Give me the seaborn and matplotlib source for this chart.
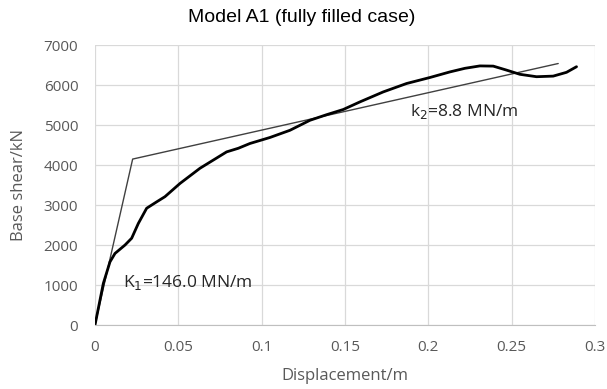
import numpy as np
import pandas as pd
import matplotlib
matplotlib.use("Agg")
import matplotlib.pyplot as plt
import seaborn as sns

# courbe pushover
disp = [0, 0.005, 0.009, 0.012, 0.018, 0.022, 0.026, 0.031, 0.037, 0.042,
        0.051, 0.063, 0.079, 0.086, 0.093, 0.105, 0.117, 0.129, 0.139, 0.149,
        0.159, 0.173, 0.187, 0.201, 0.213, 0.222, 0.231, 0.239, 0.247, 0.255,
        0.265, 0.275, 0.283, 0.289]
shear = [0, 1040, 1580, 1790, 2000, 2170, 2540, 2920, 3080, 3210,
         3540, 3920, 4330, 4420, 4540, 4690, 4870, 5120, 5260, 5390,
         5580, 5830, 6040, 6190, 6330, 6420, 6480, 6475, 6375, 6270,
         6210, 6225, 6320, 6460]

# modele bilineaire
bil_disp = [0, 0.0226, 0.278]
bil_shear = [0, 4150, 6540]

curve = pd.DataFrame({"disp": disp, "shear": shear})
bilin = pd.DataFrame({"disp": bil_disp, "shear": bil_shear})

sns.set_style("white")
plt.rcParams['font.family'] = ['Open Sans', 'DejaVu Sans']
grey = "#595959"

fig = plt.figure(figsize=(6.07, 3.89), dpi=100)
ax = fig.add_axes([0.1565, 0.1645, 0.8235, 0.7195])

sns.lineplot(data=bilin, x="disp", y="shear", sort=False, color="#404040", linewidth=1.0, ax=ax)
sns.lineplot(data=curve, x="disp", y="shear", sort=False, color="black", linewidth=2.0,
             solid_joinstyle="round", ax=ax)

ax.set_xlim(0, 0.3)
ax.set_ylim(0, 7000)
ax.set_xticks(np.arange(0, 0.31, 0.05))
ax.set_xticklabels(["0", "0.05", "0.1", "0.15", "0.2", "0.25", "0.3"])
ax.set_yticks(np.arange(0, 7001, 1000))
ax.grid(True, color="#d9d9d9", linewidth=0.9)
ax.set_axisbelow(True)
for s in ["top", "right", "left"]:
    ax.spines[s].set_visible(False)
ax.spines["bottom"].set_color("#bfbfbf")
ax.tick_params(axis="both", length=0, labelsize=11, colors=grey)
ax.tick_params(axis="x", pad=11)
ax.tick_params(axis="y", pad=12)

ax.set_xlabel("Displacement/m", fontsize=12, color=grey, labelpad=9)
ax.set_ylabel("Base shear/kN", fontsize=12, color=grey, labelpad=12)
fig.suptitle("Model A1 (fully filled case)", fontsize=14, color="black",
             family=["Liberation Sans", "DejaVu Sans"], x=0.497, y=0.956, va="center")

ax.text(0.189, 5330, "k$_2$=8.8 MN/m", fontsize=12.5, color="#262626", va="center")
ax.text(0.017, 1075, "K$_1$=146.0 MN/m", fontsize=12.5, color="#262626", va="center")

fig.savefig("out.png", dpi=100)
